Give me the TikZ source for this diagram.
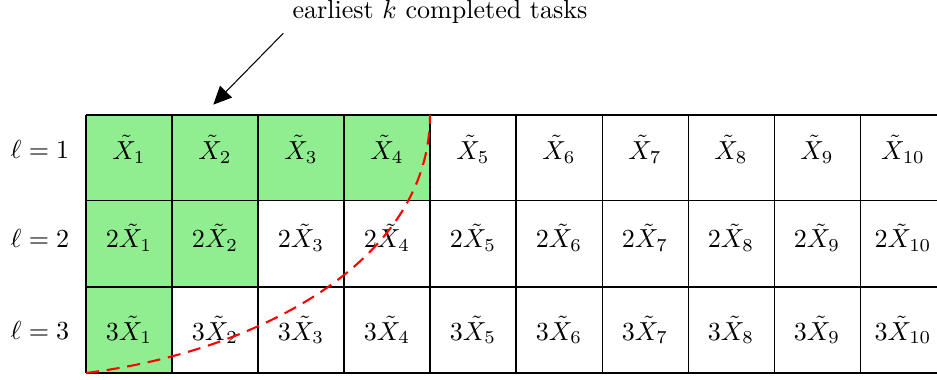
\documentclass[tikz,border=0pt]{standalone}
\usetikzlibrary{arrows.meta}
\definecolor{cellgreen}{RGB}{144,238,144}
\begin{document}
\begin{tikzpicture}[x=1.16cm,y=1.16cm,>={Triangle[length=7pt,width=6.4pt]}]
		\useasboundingbox (-1,-0.081) rectangle (9.895,4.337);
		\clip (-1,-0.081) rectangle (9.895,4.337);
		% completed cells
		\fill[cellgreen] (0,2) rectangle (4,3);
		\fill[cellgreen] (0,1) rectangle (2,2);
		\fill[cellgreen] (0,0) rectangle (1,1);
		\draw[step=1] (0,0) grid (10,3);
		\node (l1) at (-0.535,2.6) {$\ell=1$};
		\node (l2) at (-0.535,1.57) {$\ell=2$};
		\node (l3) at (-0.535,0.5) {$\ell=3$};
		\foreach \i in {1,...,10} \node (a\i) at (\i-0.5,2.6) {$\tilde{X}_{\i}$};
		\foreach \i in {1,...,10} \node (b\i) at (\i-0.5,1.57) {$2\tilde{X}_{\i}$};
		\foreach \i in {1,...,10} \node (c\i) at (\i-0.5,0.5) {$3\tilde{X}_{\i}$};
		\draw[red,thick,dash pattern=on 5pt off 3pt] (0,0) .. controls (2,0.25) and (4,1.3) .. (4,3);
		\node (note) at (4.116,4.192) {earliest $k$ completed tasks};
		\coordinate (tip) at (1.48,3.12);
		\draw[->] (note.south west) -- (tip);
	\end{tikzpicture}
\end{document}
